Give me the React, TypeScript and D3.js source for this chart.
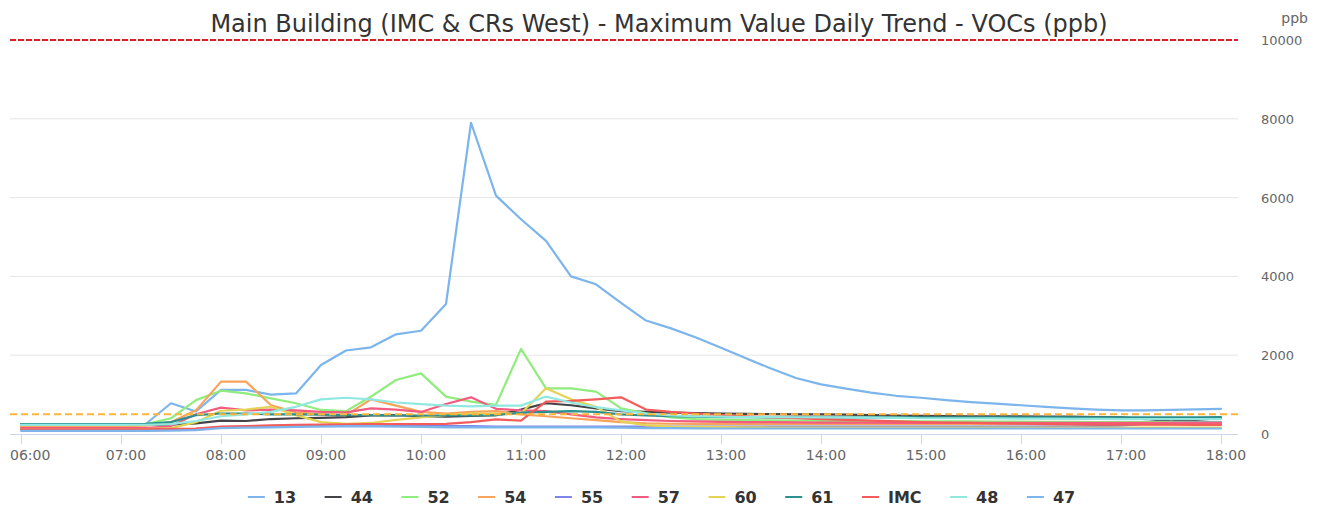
import React, { useEffect, useRef } from "react";
import * as d3 from "d3";

const chartTitle = "Main Building (IMC & CRs West) - Maximum Value Daily Trend - VOCs (ppb)";
const yAxisTitle = "ppb";

const times = [
  "06:00", "06:15", "06:30", "06:45", "07:00", "07:15", "07:30", "07:45",
  "08:00", "08:15", "08:30", "08:45", "09:00", "09:15", "09:30", "09:45",
  "10:00", "10:15", "10:30", "10:45", "11:00", "11:15", "11:30", "11:45",
  "12:00", "12:15", "12:30", "12:45", "13:00", "13:15", "13:30", "13:45",
  "14:00", "14:15", "14:30", "14:45", "15:00", "15:15", "15:30", "15:45",
  "16:00", "16:15", "16:30", "16:45", "17:00", "17:15", "17:30", "17:45",
  "18:00",
];

const xTickLabels = ["06:00", "07:00", "08:00", "09:00", "10:00", "11:00", "12:00", "13:00", "14:00", "15:00", "16:00", "17:00", "18:00"];
const yTicks = [0, 2000, 4000, 6000, 8000, 10000];
const thresholdHigh = 10000;
const thresholdLow = 500;

const s13 = [220, 220, 220, 220, 220, 260, 780, 570, 1120, 1120, 1000, 1030, 1750, 2120, 2200, 2530, 2620, 3300, 7900, 6050, 5450, 4900, 4000, 3800, 3330, 2880, 2680, 2450, 2190, 1920, 1660, 1420, 1260, 1150, 1050, 970, 920, 860, 810, 770, 730, 690, 650, 620, 600, 600, 610, 625, 640];
const s44 = [230, 230, 230, 230, 230, 235, 240, 270, 340, 330, 380, 400, 410, 430, 470, 480, 450, 440, 460, 480, 620, 780, 730, 650, 580, 560, 540, 530, 520, 510, 505, 500, 500, 490, 480, 470, 460, 455, 450, 450, 445, 440, 440, 430, 420, 380, 320, 360, 400];
const s52 = [220, 220, 220, 220, 225, 250, 400, 860, 1100, 1030, 905, 780, 610, 580, 950, 1370, 1540, 950, 820, 740, 2160, 1160, 1160, 1075, 650, 525, 420, 380, 360, 350, 345, 340, 335, 330, 330, 325, 320, 320, 320, 315, 315, 310, 310, 305, 300, 300, 300, 300, 300];
const s54 = [200, 200, 200, 200, 200, 210, 300, 600, 1330, 1330, 730, 550, 500, 480, 880, 720, 560, 520, 560, 580, 500, 450, 400, 350, 300, 270, 260, 255, 250, 250, 250, 250, 250, 250, 250, 250, 250, 250, 250, 250, 250, 250, 250, 250, 250, 250, 250, 250, 250];
const s55 = [100, 100, 100, 100, 100, 100, 110, 130, 170, 180, 190, 200, 200, 200, 200, 200, 200, 200, 200, 190, 190, 190, 190, 190, 190, 190, 190, 190, 190, 190, 190, 190, 190, 190, 190, 190, 190, 190, 190, 190, 190, 190, 190, 200, 210, 260, 280, 290, 290];
const s57 = [150, 150, 150, 150, 150, 150, 200, 500, 670, 600, 620, 600, 560, 550, 650, 620, 560, 760, 930, 640, 600, 580, 500, 420, 380, 350, 330, 320, 310, 300, 300, 295, 290, 290, 285, 280, 280, 280, 280, 280, 280, 280, 280, 280, 280, 280, 280, 280, 280];
const s60 = [120, 120, 120, 120, 120, 125, 150, 300, 590, 620, 690, 480, 300, 260, 280, 360, 420, 480, 520, 520, 520, 1160, 880, 690, 320, 220, 190, 180, 175, 170, 165, 165, 160, 160, 160, 160, 160, 160, 160, 160, 160, 160, 160, 160, 160, 160, 160, 160, 160];
const s61 = [250, 250, 250, 250, 250, 255, 300, 480, 520, 520, 500, 500, 490, 480, 480, 470, 470, 470, 470, 480, 540, 560, 580, 560, 500, 470, 450, 440, 430, 425, 420, 420, 420, 420, 420, 420, 420, 420, 420, 420, 420, 420, 420, 420, 420, 420, 420, 425, 430];
const sIMC = [120, 120, 120, 120, 120, 120, 130, 140, 190, 200, 220, 230, 240, 245, 250, 250, 250, 255, 300, 370, 340, 820, 840, 880, 930, 620, 560, 520, 480, 450, 420, 400, 380, 360, 340, 320, 300, 290, 280, 270, 260, 250, 245, 240, 240, 235, 235, 230, 230];
const s48 = [230, 230, 230, 230, 230, 235, 250, 330, 450, 500, 560, 690, 880, 920, 880, 800, 760, 720, 700, 720, 720, 950, 800, 680, 600, 520, 470, 450, 440, 430, 430, 425, 420, 420, 415, 410, 400, 400, 400, 395, 390, 390, 385, 385, 380, 380, 380, 380, 380];
const s47 = [80, 80, 80, 80, 80, 80, 85, 100, 150, 160, 170, 180, 190, 200, 200, 190, 180, 170, 170, 170, 170, 170, 170, 170, 160, 150, 150, 145, 140, 140, 140, 140, 140, 140, 140, 140, 140, 140, 140, 140, 140, 140, 140, 140, 140, 140, 140, 140, 140];

const seriesNames = ["13", "44", "52", "54", "55", "57", "60", "61", "IMC", "48", "47"];
const seriesValues = [s13, s44, s52, s54, s55, s57, s60, s61, sIMC, s48, s47];
const seriesColors = ["#7cb5ec", "#434348", "#90ed7d", "#f7a35c", "#8085e9", "#f15c80", "#e4d354", "#2b908f", "#f45b5b", "#91e8e1", "#7cb5ec"];

const FONT = "'DejaVu Sans', sans-serif";

export default function App() {
  const ref = useRef<SVGSVGElement>(null);

  useEffect(() => {
    const svg = d3.select(ref.current);
    svg.selectAll("*").remove();

    const plotLeft = 10;
    const plotRight = 1238;
    const x = d3.scalePoint<string>().domain(times).range([21, 1221]);
    const y = d3.scaleLinear().domain([0, 10000]).range([434, 40]);

    // title
    svg.append("text")
      .attr("x", 659).attr("y", 32)
      .attr("text-anchor", "middle")
      .attr("font-family", FONT).attr("font-size", 24)
      .attr("fill", "#333333")
      .text(chartTitle);

    // grid
    svg.append("g").selectAll("line").data(yTicks.filter(t => t !== 0)).join("line")
      .attr("x1", plotLeft).attr("x2", plotRight)
      .attr("y1", d => y(d)).attr("y2", d => y(d))
      .attr("stroke", "#e6e6e6").attr("stroke-width", 1);

    // y labels
    svg.append("g").selectAll("text").data(yTicks).join("text")
      .attr("x", 1261).attr("y", d => y(d) + 5)
      .attr("font-family", FONT).attr("font-size", 13)
      .attr("fill", "#666666")
      .text(d => String(d));

    svg.append("text")
      .attr("x", 1308).attr("y", 23)
      .attr("text-anchor", "end")
      .attr("font-family", FONT).attr("font-size", 14)
      .attr("fill", "#666666")
      .text(yAxisTitle);

    // x axis
    svg.append("line")
      .attr("x1", plotLeft).attr("x2", plotRight)
      .attr("y1", 434.5).attr("y2", 434.5)
      .attr("stroke", "#ccd6eb").attr("stroke-width", 1);
    const xt = svg.append("g");
    xt.selectAll("line").data(xTickLabels).join("line")
      .attr("x1", d => Math.round(x(d)!) + 0.5).attr("x2", d => Math.round(x(d)!) + 0.5)
      .attr("y1", 434).attr("y2", 444)
      .attr("stroke", "#ccd6eb").attr("stroke-width", 1);
    xt.selectAll("text").data(xTickLabels).join("text")
      .attr("x", (d, i) => (i === 0 ? plotLeft : x(d)! + 5))
      .attr("y", 460)
      .attr("text-anchor", (d, i) => (i === 0 ? "start" : "middle"))
      .attr("font-family", FONT).attr("font-size", 14)
      .attr("fill", "#666666")
      .text(d => d);

    // series
    const line = d3.line<number>()
      .x((d, i) => x(times[i])!)
      .y(d => y(d));
    const sg = svg.append("g");
    seriesValues.forEach((vals, k) => {
      sg.append("path")
        .attr("d", line(vals))
        .attr("fill", "none")
        .attr("stroke", seriesColors[k])
        .attr("stroke-width", 2.2)
        .attr("stroke-linejoin", "round")
        .attr("stroke-linecap", "round");
    });

    // threshold lines
    svg.append("line")
      .attr("x1", plotLeft).attr("x2", plotRight)
      .attr("y1", y(thresholdHigh)).attr("y2", y(thresholdHigh))
      .attr("stroke", "#dd1f26").attr("stroke-width", 2)
      .attr("stroke-dasharray", "6,2");
    svg.append("line")
      .attr("x1", plotLeft).attr("x2", plotRight)
      .attr("y1", y(thresholdLow)).attr("y2", y(thresholdLow))
      .attr("stroke", "#fdb53a").attr("stroke-width", 2)
      .attr("stroke-dasharray", "7,4");

    // legend
    const lg = svg.append("g");
    const items = seriesNames.map((name, k) => {
      const g = lg.append("g");
      g.append("line")
        .attr("x1", 0).attr("x2", 17)
        .attr("y1", 497).attr("y2", 497)
        .attr("stroke", seriesColors[k]).attr("stroke-width", 2);
      const t = g.append("text")
        .attr("x", 26).attr("y", 502.5)
        .attr("font-family", FONT).attr("font-size", 16)
        .attr("font-weight", "bold")
        .attr("fill", "#333333")
        .text(name);
      const w = (t.node() as SVGTextElement).getComputedTextLength();
      return { g, width: 26 + w };
    });
    const gap = 28.5;
    const total = items.reduce((s, it) => s + it.width, 0) + gap * (items.length - 1);
    let cx = 661.5 - total / 2;
    items.forEach(it => {
      it.g.attr("transform", `translate(${cx},0)`);
      cx += it.width + gap;
    });
  }, []);

  return (
    <svg
      ref={ref}
      width={1323}
      height={509}
      style={{ position: "absolute", left: 0, top: 0, background: "#ffffff" }}
    />
  );
}
